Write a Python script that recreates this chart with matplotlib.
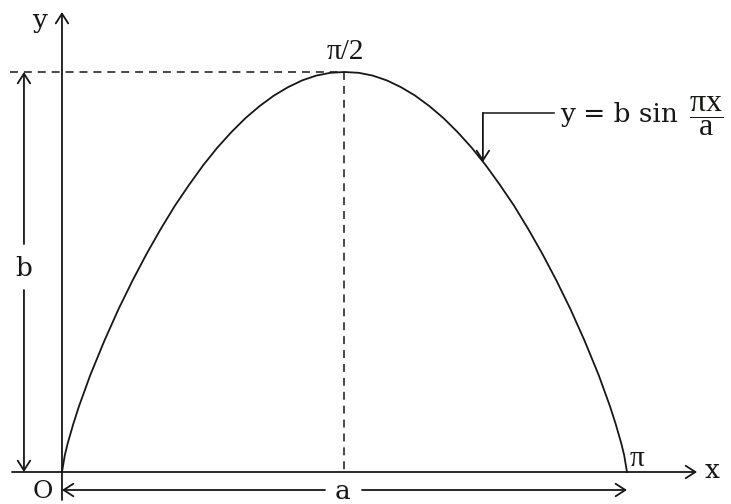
import matplotlib
matplotlib.use("Agg")
import matplotlib.pyplot as plt

plt.rcParams['font.family'] = ['DejaVu Serif']
plt.rcParams['mathtext.fontset'] = 'custom'
plt.rcParams['mathtext.rm'] = 'Liberation Serif'

# curve, x as a fraction of a, y as a fraction of b
curve_x = [0, 0.005, 0.01, 0.02, 0.03, 0.05, 0.075, 0.1, 0.125, 0.15, 0.175,
           0.2, 0.225, 0.25, 0.275, 0.3, 0.325, 0.35, 0.375, 0.4, 0.425,
           0.45, 0.475, 0.5, 0.525, 0.55, 0.575, 0.6, 0.625, 0.65, 0.675,
           0.7, 0.725, 0.75, 0.775, 0.8, 0.825, 0.85, 0.875, 0.9, 0.925,
           0.95, 0.97, 0.98, 0.99, 0.995, 1.0]
curve_y = [0, 0.042, 0.071, 0.120, 0.164, 0.242, 0.328, 0.407, 0.479, 0.546,
           0.608, 0.666, 0.718, 0.767, 0.811, 0.850, 0.885, 0.915, 0.941,
           0.962, 0.979, 0.991, 0.998, 1.0, 0.998, 0.991, 0.979, 0.962,
           0.941, 0.915, 0.885, 0.850, 0.811, 0.767, 0.718, 0.666, 0.608,
           0.546, 0.479, 0.407, 0.328, 0.242, 0.164, 0.120, 0.071, 0.042, 0]

a_len = 1.0
b_len = 1.0
peak_label = "π/2"
end_label = "π"
formula_left = "y = b sin"
formula_frac = r"$\dfrac{\mathrm{πx}}{\mathrm{a}}$"

ink = '#151815'
lw = 1.3
head = '->,head_length=0.7,head_width=0.45'
pi_font = ['Liberation Serif']


def arrow(ax, start, tip, style=head):
    ax.annotate("", xy=tip, xytext=start,
                arrowprops=dict(arrowstyle=style, lw=lw, color=ink,
                                shrinkA=0, shrinkB=0))


fig = plt.figure(figsize=(7.31, 5.04), dpi=100)
ax = fig.add_axes([0, 0, 1, 1])
ax.set_xlim(-0.1097, 1.1841)
ax.set_ylim(-0.08, 1.18)
ax.axis('off')

# axes
arrow(ax, (0, -0.07), (0, 1.15))
arrow(ax, (-0.0885, 0), (1.124, 0))
ax.text(-0.039, 1.13, "y", fontsize=19, ha='center', va='center', color=ink)
ax.text(1.150, 0.005, "x", fontsize=19, ha='center', va='center', color=ink)
ax.text(-0.034, -0.05, "O", fontsize=18, ha='center', va='center', color=ink)

# the curve
ax.plot(curve_x, curve_y, color=ink, lw=lw)

# dashed guides to the peak
ax.plot([-0.092, 0.5 * a_len], [b_len, b_len], color=ink, lw=1.1, dashes=(5.2, 3.9))
ax.plot([0.5 * a_len, 0.5 * a_len], [b_len, 0], color=ink, lw=1.1, dashes=(5.2, 3.9))
ax.text(0.501, 1.05, peak_label, fontsize=21, ha='center', va='center',
        color=ink, family=pi_font)
ax.text(1.018, 0.033, end_label, fontsize=21, ha='center', va='center',
        color=ink, family=pi_font)

# height b
bx = -0.0673
arrow(ax, (bx, 0.57), (bx, b_len))
arrow(ax, (bx, 0.455), (bx, 0))
ax.text(bx, 0.51, "b", fontsize=19, ha='center', va='center', color=ink)

# width a
ay = -0.045
arrow(ax, (0.531, ay), (a_len, ay))
arrow(ax, (0.4655, ay), (0, ay))
ax.text(0.496, ay - 0.003, "a", fontsize=19, ha='center', va='center', color=ink)

# formula callout
ax.plot([0.871, 0.745], [0.8975, 0.8975], color=ink, lw=1.1)
arrow(ax, (0.745, 0.8975), (0.745, 0.775))
ax.text(0.881, 0.893, formula_left, fontsize=19, ha='left', va='center', color=ink)
ax.text(1.110, 0.889, formula_frac, fontsize=23, ha='left', va='center', color=ink)

fig.savefig("out.png", dpi=100)
